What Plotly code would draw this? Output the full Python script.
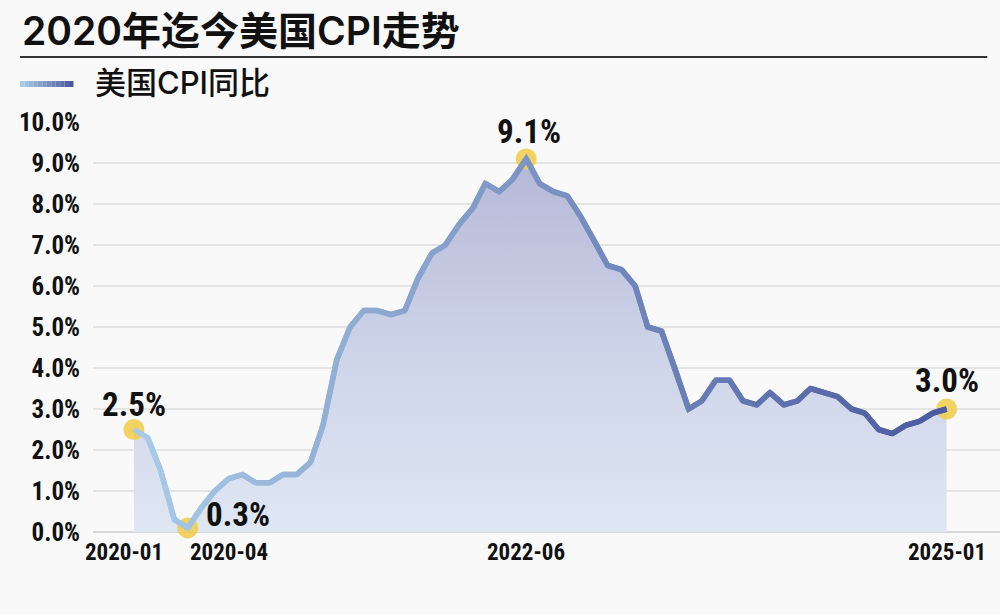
import plotly.graph_objects as go

# ---------------- data ----------------
months = [f"{y}-{m:02d}-01" for y in range(2020, 2026) for m in range(1, 13)][:61]
cpi_yoy = [
    2.5, 2.3, 1.5, 0.3, 0.1, 0.6, 1.0, 1.3, 1.4, 1.2, 1.2, 1.4,
    1.4, 1.7, 2.6, 4.2, 5.0, 5.4, 5.4, 5.3, 5.4, 6.2, 6.8, 7.0,
    7.5, 7.9, 8.5, 8.3, 8.6, 9.1, 8.5, 8.3, 8.2, 7.7, 7.1, 6.5,
    6.4, 6.0, 5.0, 4.9, 4.0, 3.0, 3.2, 3.7, 3.7, 3.2, 3.1, 3.4,
    3.1, 3.2, 3.5, 3.4, 3.3, 3.0, 2.9, 2.5, 2.4, 2.6, 2.7, 2.9,
    3.0,
]
highlight_idx = [0, 4, 29, 60]
highlight_text = ["2.5%", "0.3%", "9.1%", "3.0%"]
xtick_dates = ["2020-01-01", "2020-04-01", "2022-06-01", "2025-01-01"]
xtick_text = ["2020-01", "2020-04", "2022-06", "2025-01"]
title_text = "2020年迄今美国CPI走势"
legend_text = "美国CPI同比"

# ---------------- styles ----------------
BG = "#f9f9f9"
C_START = (169, 203, 232)
C_END = (75, 90, 159)
NUM_FONT = "Liberation Sans Narrow, Arial Narrow, Roboto Condensed, Liberation Sans, Arial"
CJK_FONT = "Inter, Noto Sans CJK SC, Noto Sans, sans-serif"


def mix(t):
    r = [round(a + (b - a) * t) for a, b in zip(C_START, C_END)]
    return f"rgb({r[0]},{r[1]},{r[2]})"


fig = go.Figure()

# area fill with vertical gradient
fig.add_trace(go.Scatter(
    x=months, y=cpi_yoy, mode="lines", line=dict(width=0),
    fill="tozeroy",
    fillgradient=dict(type="vertical", start=0, stop=9.1,
                      colorscale=[[0, "#dfe7f3"], [0.5, "#ccd3e8"], [1, "#b6b8d6"]]),
    hoverinfo="skip", showlegend=False,
))

# highlight dots
fig.add_trace(go.Scatter(
    x=[months[i] for i in highlight_idx], y=[cpi_yoy[i] for i in highlight_idx],
    mode="markers",
    marker=dict(size=21, color="rgba(241,204,70,0.85)", line=dict(width=0)),
    cliponaxis=False, hoverinfo="skip", showlegend=False,
))

# gradient line built from overlapping segments
n = len(cpi_yoy)
for i in range(n - 1):
    j = min(i + 3, n)
    fig.add_trace(go.Scatter(
        x=months[i:j], y=cpi_yoy[i:j], mode="lines",
        line=dict(width=5.5, color=mix((i + 0.5) / (n - 1))),
        hoverinfo="skip", showlegend=False, cliponaxis=False,
    ))

annotations = []
# data labels
label_shift = {0: (0, 25), 4: (50, 13), 29: (3, 27), 60: (0, 29)}
for k, i in enumerate(highlight_idx):
    dx, dy = label_shift[i]
    annotations.append(dict(
        x=months[i], y=cpi_yoy[i], text=f"<b>{highlight_text[k]}</b>",
        showarrow=False, xshift=dx, yshift=dy, xanchor="center", yanchor="middle",
        font=dict(family=NUM_FONT, size=33, color="#111111"),
    ))

# x tick labels
xshifts = [-10, 55, 0, 0]
for d, t, s in zip(xtick_dates, xtick_text, xshifts):
    annotations.append(dict(
        x=d, y=0, xref="x", yref="paper", text=f"<b>{t}</b>", showarrow=False,
        xanchor="center", yanchor="top", xshift=s, yshift=-5,
        font=dict(family=NUM_FONT, size=23, color="#111111"),
    ))

# title and legend text
annotations.append(dict(
    x=-0.0805, y=1.222, xref="paper", yref="paper", xanchor="left", yanchor="middle",
    text=title_text, showarrow=False,
    font=dict(family=CJK_FONT, size=39, color="#111111", weight=600),
))
annotations.append(dict(
    x=0.0, y=1.097, xref="paper", yref="paper", xanchor="left", yanchor="middle",
    text=legend_text, showarrow=False,
    font=dict(family=CJK_FONT, size=31, color="#111111", weight=500),
))

shapes = [dict(type="line", xref="paper", yref="paper", x0=-0.0805, x1=0.986,
               y0=1.1585, y1=1.1585, line=dict(color="#333333", width=2))]
# gradient legend swatch
nseg = 12
x_a, x_b = -0.0805, -0.0215
for s in range(nseg):
    shapes.append(dict(
        type="line", xref="paper", yref="paper",
        x0=x_a + (x_b - x_a) * s / nseg, x1=x_a + (x_b - x_a) * (s + 1) / nseg,
        y0=1.0927, y1=1.0927, line=dict(color=mix(s / (nseg - 1)), width=6),
    ))

fig.update_layout(
    width=1000, height=615, autosize=False,
    paper_bgcolor=BG, plot_bgcolor=BG,
    margin=dict(l=93, r=0, t=122, b=83),
    showlegend=False,
    annotations=annotations, shapes=shapes,
    xaxis=dict(type="date", range=["2019-10-01", "2025-05-01"], showgrid=False,
               showticklabels=False, zeroline=False, showline=False, ticks=""),
    yaxis=dict(range=[0, 10], dtick=1, tickformat=".1f", ticksuffix="%",
               showgrid=True, gridcolor="#e4e4e4", gridwidth=1.5,
               zeroline=True, zerolinecolor="#d8d8d8", zerolinewidth=1.5,
               ticks="outside", ticklen=7, tickcolor="rgba(0,0,0,0)",
               tickfont=dict(family=NUM_FONT, size=25, color="#111111", weight="bold")),
)

fig.write_html(
    "out.html",
    config={"displayModeBar": False},
    post_script="document.body.style.margin='0';document.body.style.background='#f9f9f9';",
)
